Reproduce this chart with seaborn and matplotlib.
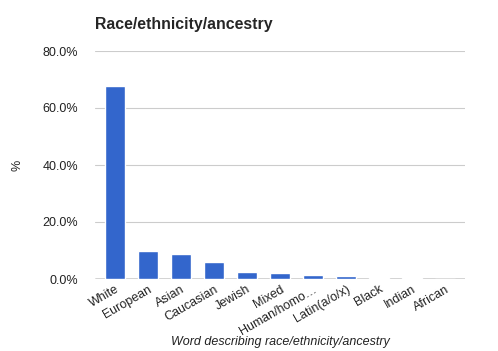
import pandas as pd
import matplotlib.pyplot as plt
import seaborn as sns
from matplotlib.ticker import FuncFormatter

words = ['White', 'European', 'Asian', 'Caucasian', 'Jewish', 'Mixed',
         'Human/homo…', 'Latin(a/o/x)', 'Black', 'Indian', 'African']
share = [67.8, 9.8, 8.8, 6.0, 2.5, 2.1, 1.4, 1.1, 0.5, 0.5, 0.1]

df = pd.DataFrame({'word': words, 'pct': share})

sns.set_style('white')
plt.rcParams['font.family'] = ['Liberation Sans', 'DejaVu Sans']

fig = plt.figure(figsize=(4.98, 3.51), dpi=100)
ax = fig.add_axes([95 / 498, 1 - 279 / 351, 370 / 498, 228 / 351])

ax.axhline(0, color='#333333', linewidth=1, zorder=1)
sns.barplot(data=df, x='word', y='pct', color='#3366cc', width=0.62,
            saturation=1, ax=ax, zorder=3)

ax.set_ylim(0, 80)
ax.set_yticks([0, 20, 40, 60, 80])
ax.yaxis.set_major_formatter(FuncFormatter(lambda v, p: f'{v:.1f}%'))
ax.grid(axis='y', color='#cccccc', linewidth=0.8)
ax.set_axisbelow(True)
for s in ax.spines.values():
    s.set_visible(False)
ax.tick_params(axis='both', length=0, labelsize=9, colors='#222222')
ax.tick_params(axis='y', pad=12)
ax.tick_params(axis='x', pad=3)
ax.set_xlim(-0.6, 10.6)

for lab in ax.get_xticklabels():
    lab.set_rotation(30)
    lab.set_ha('right')
    lab.set_rotation_mode('anchor')

ax.set_xlabel('Word describing race/ethnicity/ancestry', fontsize=9,
              style='italic', color='#222222')
ax.xaxis.set_label_coords(0.5, -0.25)
ax.set_ylabel('%', fontsize=9, color='#222222')
ax.yaxis.set_label_coords(-0.193, 0.5)
fig.text(95 / 498, 1 - 25 / 351, 'Race/ethnicity/ancestry', fontsize=11.4,
         fontweight='bold', va='center', ha='left')

fig.savefig('out.png', dpi=100)
